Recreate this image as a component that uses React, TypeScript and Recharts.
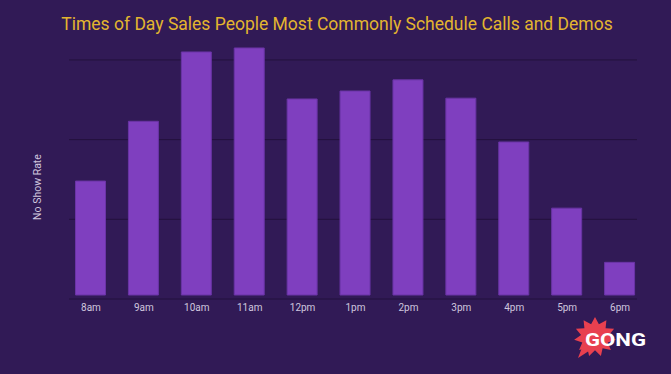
import React from "react";
import { BarChart, Bar, XAxis, YAxis, CartesianGrid } from "recharts";

const categories = ["8am", "9am", "10am", "11am", "12pm", "1pm", "2pm", "3pm", "4pm", "5pm", "6pm"];
const noShowRate = [1.48, 2.23, 3.1, 3.15, 2.51, 2.61, 2.75, 2.52, 1.97, 1.14, 0.46];
const yTicks = [0, 1, 2, 3];
const yMax = 3.25;
const barBase = 0.05;

const data = categories.map((c, i) => ({ time: c, range: [barBase, noShowRate[i]] }));

const BG = "#311a56";
const BAR = "#7f3fbf";
const BAR_STROKE = "#6a34a5";
const GRID = "#23113d";
const TITLE = "#e3b52f";
const TICK = "#cfc6de";

function burstPoints(cx: number, cy: number, rOut: number, rIn: number, n: number) {
  const pts: string[] = [];
  for (let i = 0; i < n * 2; i++) {
    const a = (Math.PI * i) / n - Math.PI / 2;
    const r = i % 2 === 0 ? rOut : rIn;
    pts.push(`${(cx + r * Math.cos(a)).toFixed(1)},${(cy + r * Math.sin(a) * 0.95).toFixed(1)}`);
  }
  return pts.join(" ");
}

function gridYs(props: any): number[] {
  const s = props && props.yAxis ? props.yAxis.scale : undefined;
  if (typeof s === "function") return yTicks.map((t) => s(t));
  if (s && typeof s.map === "function") return yTicks.map((t) => s.map(t));
  const off = props.offset;
  return yTicks.map((t) => off.top + off.height * (1 - t / yMax));
}

export default function App() {
  return (
    <div style={{ position: "fixed", left: 0, top: 0, width: 671, height: 374, background: BG, overflow: "hidden" }}>
      <BarChart
        width={671}
        height={374}
        data={data}
        margin={{ top: 40, right: 24.5, bottom: 45, left: 64.5 }}
      >
        <CartesianGrid
          vertical={false}
          stroke={GRID}
          strokeWidth={1}
          x={69}
          width={568}
          horizontalCoordinatesGenerator={gridYs}
        />
        <YAxis hide domain={[0, yMax]} ticks={yTicks} type="number" />
        <XAxis
          dataKey="time"
          height={30}
          axisLine={false}
          tickLine={false}
          tickSize={3}
          tick={{ fill: TICK, fontSize: 10, fontFamily: "Roboto, sans-serif" }}
          interval={0}
        />
        <Bar dataKey="range" fill={BAR} stroke={BAR_STROKE} strokeWidth={1} barSize={30} isAnimationActive={false} />
      </BarChart>
      <svg width={671} height={374} style={{ position: "absolute", left: 0, top: 0, pointerEvents: "none" }}>
        <text x={337} y={30} textAnchor="middle" fill={TITLE} fontSize={17.5} fontFamily="Roboto, sans-serif">
          Times of Day Sales People Most Commonly Schedule Calls and Demos
        </text>
        <text
          x={41}
          y={187}
          transform="rotate(-90 41 187)"
          textAnchor="middle"
          fill={TICK}
          fontSize={10.5}
          fontFamily="Roboto, sans-serif"
        >
          No Show Rate
        </text>
        <polygon points={burstPoints(595, 337, 21, 14, 11)} fill="#e8404f" />
        <polygon points="583,345 592,349 578,358" fill="#e8404f" />
        <text x={585} y={345.5} fill="#ffffff" fontSize={18} fontWeight={700} fontFamily="Roboto, sans-serif" textLength={61} lengthAdjust="spacingAndGlyphs">
          GONG
        </text>
      </svg>
    </div>
  );
}
